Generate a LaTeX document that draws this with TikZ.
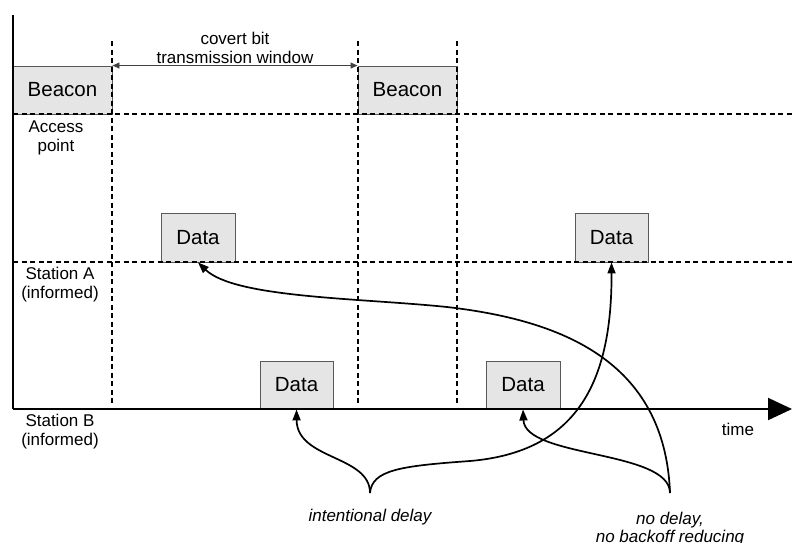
\documentclass[tikz,border=0pt]{standalone}
\usepackage{fontspec}
\setmainfont{Liberation Sans}
\usetikzlibrary{arrows.meta}
\begin{document}
\begin{tikzpicture}[x=1pt,y=-1pt,
  box/.style={draw=black!65, line width=0.9pt, fill=black!10, inner sep=0pt,
              minimum height=48pt, font=\fontsize{20.5}{24}\selectfont},
  lbl/.style={align=center, inner sep=0pt, font=\fontsize{17}{19}\selectfont},
  sepline/.style={line width=1.5pt, dash pattern=on 5pt off 3.5pt},
  axisline/.style={line width=2pt},
  curve/.style={line width=1.7pt, -{Triangle[length=11pt,width=8pt]}},
  span/.style={line width=0.9pt, draw=black!75,
               {Triangle[length=7pt,width=6pt]}-{Triangle[length=7pt,width=6pt]}}]
\useasboundingbox (0,0) rectangle (792,542);

% boxes
\node[box, minimum width=99pt] (bc1) at (62.5,90) {Beacon};
\node[box, minimum width=99pt] (bc2) at (407.5,90) {Beacon};
\node[box, minimum width=74pt, minimum height=49pt] (a1) at (198,237.5) {Data};
\node[box, minimum width=73pt, minimum height=49pt] (a2) at (611.5,237.5) {Data};
\node[box, minimum width=73pt] (b1) at (296.5,385) {Data};
\node[box, minimum width=74pt] (b2) at (523,385) {Data};

% coordinates
\coordinate (top) at (13,15);
\coordinate (o) at (13,409);
\coordinate (tend) at (792,409);
\coordinate (h1s) at (13,114);
\coordinate (h1e) at (792,114);
\coordinate (h2s) at (13,262);
\coordinate (h2e) at (792,262);
\coordinate (v1s) at (112,41);
\coordinate (v1e) at (112,405);
\coordinate (v2s) at (358,41);
\coordinate (v2e) at (358,405);
\coordinate (v3s) at (457,41);
\coordinate (v3e) at (457,405);
\coordinate (id) at (370,493);
\coordinate (nd) at (670,493);

% dashed separators
\draw[sepline] (h1s) -- (h1e);
\draw[sepline] (h2s) -- (h2e);
\draw[sepline] (v1s) -- (v1e);
\draw[sepline] (v2s) -- (v2e);
\draw[sepline] (v3s) -- (v3e);

% axes
\draw[axisline] (top) -- (o);
\draw[axisline, -{Triangle[length=24pt,width=22pt]}] (o) -- (tend);

% window arrow
\draw[span] (bc1.north east) -- (bc2.north west);
\node[lbl] (win) at (235,48) {covert bit\\transmission window};

% labels
\node[lbl] (ap) at (56,138) {Access\\point};
\node[lbl] (sa) at (60,285) {Station A\\(informed)};
\node[lbl] (sb) at (60,432) {Station B\\(informed)};
\node[lbl] (time) at (738,429) {time};
\node[lbl, font=\fontsize{17}{19}\selectfont\itshape] (idl) at (370,517) {intentional delay};
\node[lbl, font=\fontsize{17}{18}\selectfont\itshape] (ndl) at (670,529) {no delay,\\no backoff reducing};

% curves
\draw[curve] (id) .. controls (370,455) and (297,460) .. (b1.south);
\draw[curve] (id) .. controls (372,470) and (400,466) .. (470,461)
                  .. controls (575,452) and (612,385) .. (a2.south);
\draw[curve] (nd) .. controls (670,450) and (525,458) .. (b2.south);
\draw[curve] (nd) .. controls (665,360) and (560,320) .. (447,307)
                  .. controls (360,298) and (235,298) .. (a1.south);
\end{tikzpicture}
\end{document}
